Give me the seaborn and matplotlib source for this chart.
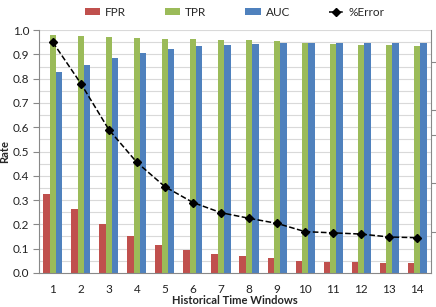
import numpy as np
import pandas as pd
import matplotlib
matplotlib.use("Agg")
import matplotlib.pyplot as plt
import seaborn as sns
from matplotlib.ticker import MultipleLocator, FixedLocator

windows = [str(i) for i in range(1, 15)]
fpr = [0.325, 0.265, 0.200, 0.152, 0.117, 0.095, 0.078, 0.071, 0.063, 0.051, 0.047, 0.045, 0.041, 0.040]
tpr = [0.978, 0.975, 0.970, 0.967, 0.963, 0.962, 0.960, 0.960, 0.957, 0.945, 0.942, 0.940, 0.937, 0.935]
auc = [0.827, 0.855, 0.885, 0.907, 0.922, 0.933, 0.940, 0.944, 0.947, 0.947, 0.947, 0.947, 0.948, 0.948]
error = [0.950, 0.780, 0.590, 0.455, 0.355, 0.290, 0.248, 0.225, 0.204, 0.170, 0.165, 0.160, 0.148, 0.145]

df = pd.DataFrame({"Window": windows * 3,
                   "Rate": fpr + tpr + auc,
                   "Metric": ["FPR"] * 14 + ["TPR"] * 14 + ["AUC"] * 14})

sns.set_style("white")
plt.rcParams["font.family"] = ["Lato", "DejaVu Sans"]

fig = plt.figure(figsize=(4.36, 3.07), dpi=100)
ax = fig.add_axes([0.089, 0.111, 0.900, 0.791])

# gridlines every 0.05
for y in np.arange(0.05, 1.0001, 0.05):
    ax.axhline(y, color="#d9d9d9", lw=0.8, zorder=0)

sns.barplot(data=df, x="Window", y="Rate", hue="Metric",
            palette=["#c0504d", "#9bbb59", "#4f81bd"], width=0.68, gap=0,
            saturation=1, linewidth=0, ax=ax, zorder=2)

ax.plot(np.arange(len(error)), error, color="black", ls="--", lw=1.1,
        marker="D", ms=4, label="%Error", zorder=3)

ax.set_ylim(0, 1.0)
ax.set_xlim(-0.5, 13.5)
ax.yaxis.set_major_locator(MultipleLocator(0.1))
ax.yaxis.set_major_formatter(matplotlib.ticker.FormatStrFormatter("%.1f"))
ax.set_xticks(range(14))
ax.set_xticklabels(windows)
ax.xaxis.set_minor_locator(FixedLocator(np.arange(-0.5, 14, 1)))
ax.tick_params(axis="x", which="major", length=0, pad=8, labelsize=8.5, colors="#222222")
ax.tick_params(axis="x", which="minor", length=4, color="#888888", direction="out")
ax.tick_params(axis="y", which="major", length=4, color="#888888", direction="out",
               labelsize=8.5, colors="#222222", pad=3)
for s in ["top", "right"]:
    ax.spines[s].set_visible(False)
for s in ["left", "bottom"]:
    ax.spines[s].set_color("#888888")
    ax.spines[s].set_linewidth(0.8)

ax.set_xlabel("Historical Time Windows", fontsize=8, fontweight="bold")
ax.set_ylabel("Rate", fontsize=8, fontweight="bold")
ax.yaxis.set_label_coords(-0.074, 0.5)
ax.xaxis.set_label_coords(0.5, -0.09)

# secondary axis (no labels)
ax2 = ax.twinx()
ax2.set_ylim(0, 1.0)
ax2.set_yticks([0.17, 0.37, 0.57, 0.67, 0.87])
ax2.set_yticklabels([])
ax2.tick_params(axis="y", length=4, color="#888888", direction="out")
for s in ["top", "left", "bottom"]:
    ax2.spines[s].set_visible(False)
ax2.spines["right"].set_color("#888888")
ax2.spines["right"].set_linewidth(0.8)

handles, labels = ax.get_legend_handles_labels()
ax.legend(handles, labels, loc="upper center", bbox_to_anchor=(0.5, 1.14),
          ncol=4, frameon=False, fontsize=8.5, handlelength=1.3, handleheight=0.45,
          columnspacing=3.3, handletextpad=0.4)

fig.savefig("out.png", dpi=100)
